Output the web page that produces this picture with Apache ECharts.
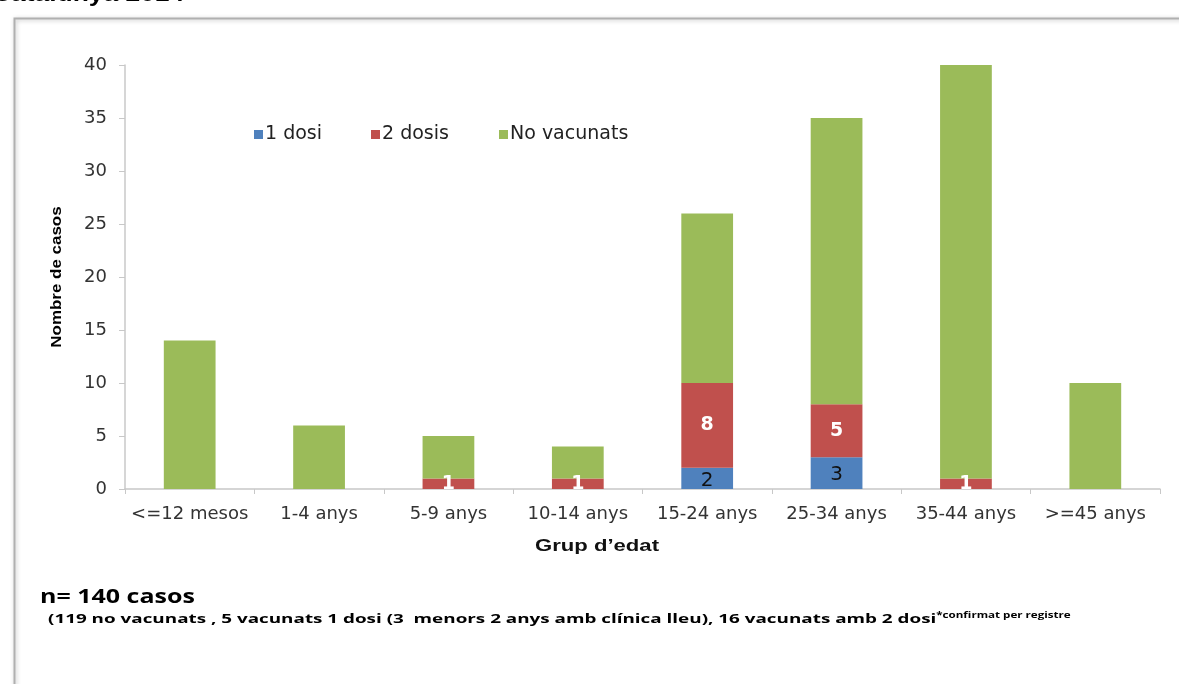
<!DOCTYPE html>
<html>
<head>
<meta charset="utf-8">
<script src="https://cdn.jsdelivr.net/npm/echarts@6/dist/echarts.min.js"></script>
<style>
  html, body { margin: 0; padding: 0; background: #fff; }
  #chart { width: 1179px; height: 684px; }
</style>
</head>
<body>
<div id="chart"></div>
<script>
// Age groups and cases per vaccination status
const ageGroups = ['<=12 mesos', '1-4 anys', '5-9 anys', '10-14 anys', '15-24 anys', '25-34 anys', '35-44 anys', '>=45 anys'];
const oneDose = [0, 0, 0, 0, 2, 3, 0, 0];
const twoDoses = [0, 0, 1, 1, 8, 5, 1, 0];
const notVaccinated = [14, 6, 4, 3, 16, 27, 39, 10];
const yTicks = [0, 5, 10, 15, 20, 25, 30, 35, 40];
const seriesNames = ['1 dosi', '2 dosis', 'No vacunats'];

const chart = echarts.init(document.getElementById('chart'));
const wideFont = '"DejaVu Sans", "Liberation Sans", sans-serif';
const axisFont = { fontFamily: wideFont, fontSize: 18, color: '#333' };

// one legend per entry so each sits at its own spot
const legendLeft = [249, 366, 494];
const legends = seriesNames.map((name, i) => ({
  left: legendLeft[i], top: 120, itemWidth: 9, itemHeight: 9, icon: 'rect',
  textStyle: { fontFamily: wideFont, fontSize: 19, color: '#222', padding: [0, 0, 0, -3] },
  data: [name]
}));

chart.setOption({
  animation: false,
  backgroundColor: '#fff',
  grid: { left: 125, right: 19, top: 65, bottom: 195, containLabel: false },
  legend: legends,
  xAxis: {
    type: 'category',
    data: ageGroups,
    axisLine: { lineStyle: { color: '#c8c8c8', width: 1.5 } },
    axisTick: { show: true, length: 5, lineStyle: { color: '#c8c8c8' } },
    axisLabel: Object.assign({ margin: 16, interval: 0 }, axisFont)
  },
  yAxis: {
    type: 'value', min: yTicks[0], max: yTicks[yTicks.length - 1], interval: 5,
    axisLine: { show: true, lineStyle: { color: '#c8c8c8', width: 1.5 } },
    axisTick: { show: true, length: 6, lineStyle: { color: '#c8c8c8' } },
    splitLine: { show: false },
    axisLabel: Object.assign({ margin: 18 }, axisFont)
  },
  series: [
    {
      name: seriesNames[0], type: 'bar', stack: 'total', barWidth: '40%',
      itemStyle: { color: '#4f81bd' },
      data: oneDose,
      label: {
        show: true, position: 'inside', color: '#111', fontSize: 20,
        fontFamily: wideFont, offset: [0, 2],
        formatter: p => p.value > 0 ? String(p.value) : ''
      }
    },
    {
      name: seriesNames[1], type: 'bar', stack: 'total', barWidth: '40%',
      itemStyle: { color: '#c0504d' },
      data: twoDoses,
      label: {
        show: true, position: 'inside', color: '#fff', fontSize: 19, fontWeight: 'bold',
        fontFamily: wideFont,
        formatter: p => p.value > 0 ? String(p.value) : ''
      }
    },
    {
      name: seriesNames[2], type: 'bar', stack: 'total', barWidth: '40%',
      itemStyle: { color: '#9bbb59' },
      data: notVaccinated
    }
  ],
  graphic: [
    // framed panel
    {
      type: 'rect', left: 12, top: 16, z: -10, silent: true,
      shape: { width: 1200, height: 700 },
      style: { fill: 'none', stroke: '#b0b0b0', lineWidth: 2, shadowBlur: 4, shadowColor: 'rgba(0,0,0,0.25)', shadowOffsetX: 1, shadowOffsetY: 1 }
    },
    {
      type: 'text', x: -8, y: -16, scaleX: 1.2,
      style: { text: 'Catalunya 2014', font: 'bold 22px "Liberation Sans", Arial, sans-serif', fill: '#000' }
    },
    {
      type: 'text', x: 57, y: 277, rotation: Math.PI / 2, scaleX: 1.13,
      style: { text: 'Nombre de casos', font: 'bold 15px "Liberation Sans", Arial, sans-serif', fill: '#000', align: 'center', verticalAlign: 'middle' }
    },
    {
      type: 'text', x: 597, y: 546, scaleX: 1.3,
      style: { text: 'Grup d\u2019edat', font: 'bold 17px "Liberation Sans", Arial, sans-serif', fill: '#111', align: 'center', verticalAlign: 'middle' }
    },
    {
      type: 'text', x: 40, y: 587, scaleX: 1.25,
      style: { text: 'n= 140 casos', font: 'bold 20px "Open Sans", "Liberation Sans", sans-serif', fill: '#000' }
    },
    {
      type: 'text', x: 48, y: 612, scaleX: 1.45,
      style: {
        text: '(119 no vacunats , 5 vacunats 1 dosi (3  menors 2 anys amb clínica lleu), 16 vacunats amb 2 dosi{sup|*confirmat per registre}',
        font: 'bold 13px "Open Sans", "Liberation Sans", sans-serif', fill: '#000',
        rich: { sup: { fontSize: 8, fontWeight: 'bold', fontFamily: 'Open Sans', verticalAlign: 'top', padding: [0, 0, 7, 0], fill: '#000' } }
      }
    }
  ]
});
</script>
</body>
</html>
